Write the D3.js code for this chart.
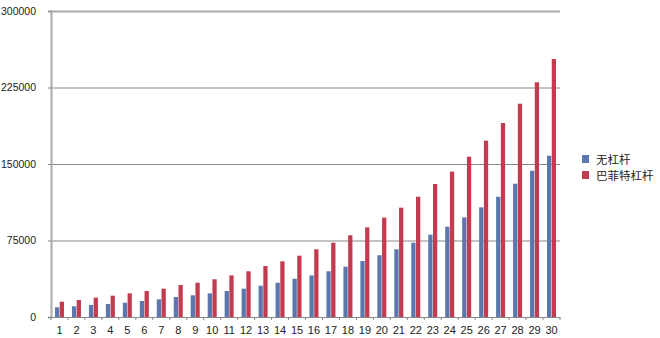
<!DOCTYPE html>
<head>
  <meta charset="utf-8">
  <script src="https://cdnjs.cloudflare.com/ajax/libs/d3/7.8.5/d3.min.js"></script>
</head>

<style>
body {
  margin: 0;
  background-color: #fff;
}
svg {
  display: block;
  font-family: "Liberation Sans", Arial, sans-serif;
}
.axis text {
  fill: #222;
}
.legend text {
  font-family: "Noto Sans CJK SC", sans-serif;
  font-size: 11.5px;
  fill: #222;
}
</style>

<body>
  <svg id='chart' width='660' height='338'></svg>
</body>

<script>

var years = d3.range(1, 31);
var noLeverage = [9500, 10500, 11800, 12700, 14000, 15700, 17300, 19600, 21300, 23200,
                  25500, 27800, 30700, 33600, 37500, 40800, 44800, 49300, 54900, 60500,
                  66400, 72800, 80700, 88500, 97700, 107500, 117900, 130700, 143400, 158100];
var buffettLeverage = [15000, 16700, 18900, 20900, 23200, 25500, 27800, 31400, 33600, 37000,
                       40800, 44800, 50000, 54600, 60100, 66400, 72800, 80100, 87900, 97400,
                       107200, 117900, 130400, 142500, 157200, 172900, 190200, 209100, 230100, 252900];
var seriesNames = ['无杠杆', '巴菲特杠杆'];
var seriesColours = ['#5a78ad', '#c23b4f'];
var yTicks = [0, 75000, 150000, 225000, 300000];

var svg = d3.select('#chart');
var plotLeft = 51, plotRight = 560, plotTop = 11, plotBottom = 317;

var x = d3.scaleBand().domain(years).range([plotLeft, plotRight]);
var x1 = d3.scaleBand().domain([0, 1]).range([0, 9]).paddingInner(0.1);
var y = d3.scaleLinear().domain([0, 300000]).range([plotBottom, plotTop]);

// grid lines
svg.append('g')
  .selectAll('line')
  .data(yTicks.slice(1))
  .enter().append('line')
    .attr('x1', plotLeft).attr('x2', plotRight)
    .attr('y1', function(d) { return y(d) + 0.5; })
    .attr('y2', function(d) { return y(d) + 0.5; })
    .attr('stroke', function(d) { return d == 300000 ? '#aaa' : '#888'; })
    .attr('stroke-width', function(d) { return d == 300000 ? 2 : 1; });

// y axis
var yAxis = svg.append('g')
  .attr('class', 'axis')
  .attr('transform', 'translate(' + plotLeft + ',0)')
  .call(d3.axisLeft(y).tickValues(yTicks).tickSize(3).tickPadding(12).tickFormat(d3.format('d')));
yAxis.select('.domain').attr('stroke', '#aaa').attr('stroke-width', 2);
yAxis.selectAll('.tick line').attr('stroke', '#888');
yAxis.selectAll('text').style('font-size', '10.5px');

// bars
var groups = svg.append('g')
  .selectAll('g')
  .data(years)
  .enter().append('g')
    .attr('transform', function(d) { return 'translate(' + (x(d) + (x.bandwidth() - 9) / 2) + ',0)'; });

groups.selectAll('rect')
  .data(function(d, i) { return [noLeverage[i], buffettLeverage[i]]; })
  .enter().append('rect')
    .attr('x', function(d, j) { return x1(j); })
    .attr('width', x1.bandwidth())
    .attr('y', function(d) { return y(d); })
    .attr('height', function(d) { return plotBottom - y(d); })
    .attr('fill', function(d, j) { return seriesColours[j]; });

// x axis
var xAxis = svg.append('g')
  .attr('class', 'axis')
  .attr('transform', 'translate(0,' + plotBottom + ')')
  .call(d3.axisBottom(x).tickSize(0).tickPadding(9));
xAxis.select('.domain').attr('stroke', '#888');
xAxis.selectAll('text').style('font-size', '11px');

// small ticks between categories
svg.append('g')
  .selectAll('line')
  .data(years.concat([31]))
  .enter().append('line')
    .attr('x1', function(d) { return d == 31 ? plotRight : x(d); })
    .attr('x2', function(d) { return d == 31 ? plotRight : x(d); })
    .attr('y1', plotBottom).attr('y2', plotBottom + 3)
    .attr('stroke', '#888');

// legend
var legend = svg.append('g')
  .attr('class', 'legend')
  .attr('transform', 'translate(582,155)');

var item = legend.selectAll('g')
  .data(seriesNames)
  .enter().append('g')
    .attr('transform', function(d, i) { return 'translate(0,' + (i * 16) + ')'; });

item.append('rect')
  .attr('width', 7).attr('height', 8)
  .attr('fill', function(d, i) { return seriesColours[i]; });

item.append('text')
  .attr('x', 14).attr('y', 8.5)
  .text(function(d) { return d; });

</script>
